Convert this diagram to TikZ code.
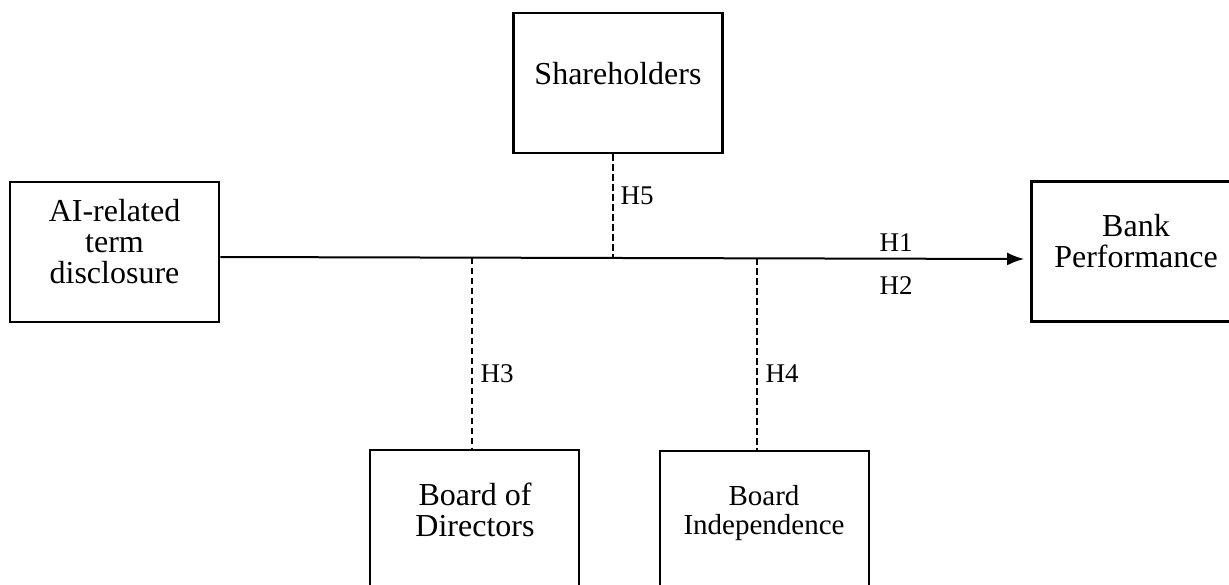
\documentclass[tikz,border=0pt]{standalone}
\usepackage{fontspec}
\setmainfont{Liberation Serif}
\usetikzlibrary{arrows.meta,calc}
\begin{document}
\begin{tikzpicture}[x=0.5pt,y=-0.5pt,
  box/.style={draw,line width=1.4pt,rectangle,inner sep=0pt,
    minimum width=104.5pt,minimum height=70pt},
  txt/.style={align=center,inner sep=0pt,font={\fontsize{16pt}{15.5pt}\selectfont}},
  txtsmall/.style={align=center,inner sep=0pt,font={\fontsize{14.5pt}{14.5pt}\selectfont}},
  lab/.style={inner sep=0pt,font={\fontsize{13.5pt}{14pt}\selectfont}},
  main/.style={line width=1pt,-{Latex[length=8.5pt,width=6.5pt]},shorten >=3pt},
  moder/.style={line width=0.9pt,dash pattern=on 3.3pt off 1.7pt}]
\useasboundingbox (0,0) rectangle (1229,584);

% variables
\node[box] (ai)   at (114.5,252) {};
\node[box] (sh)   at (618,83)    {};
\node[box] (bank) at (1136,251.5){};
\node[box] (bod)  at (474.5,520) {};
\node[box] (bi)   at (764.5,521) {};

\node[txt] (ait)   at (114.5,242) {AI-related\\term\\disclosure};
\node[txt] (sht)   at (618,74)    {Shareholders};
\node[txt] (bankt) at (1136,241)  {Bank\\Performance};
\node[txt] (bodt)  at (475,510)   {Board of\\Directors};
\node[txtsmall] (bit) at (764,513) {Board\\Independence};

% direct effect
\draw[main] ([yshift=-2.5pt]ai.east) -- ([yshift=-3.75pt]bank.west);

% points where the moderators meet the main path
\coordinate (j5) at (613,258);
\coordinate (j3) at (472,257.6);
\coordinate (j4) at (757,258.3);

\draw[moder] ([xshift=-2.5pt]sh.south) -- (j5);
\draw[moder] (j3) -- (j3 |- bod.north);
\draw[moder] (j4) -- (j4 |- bi.north);

% hypothesis labels
\node[lab] (h1) at (896,243) {H1};
\node[lab] (h2) at (896,286) {H2};
\node[lab] (h5) at (637,196) {H5};
\node[lab] (h3) at (497,374) {H3};
\node[lab] (h4) at (782,374) {H4};
\end{tikzpicture}
\end{document}
